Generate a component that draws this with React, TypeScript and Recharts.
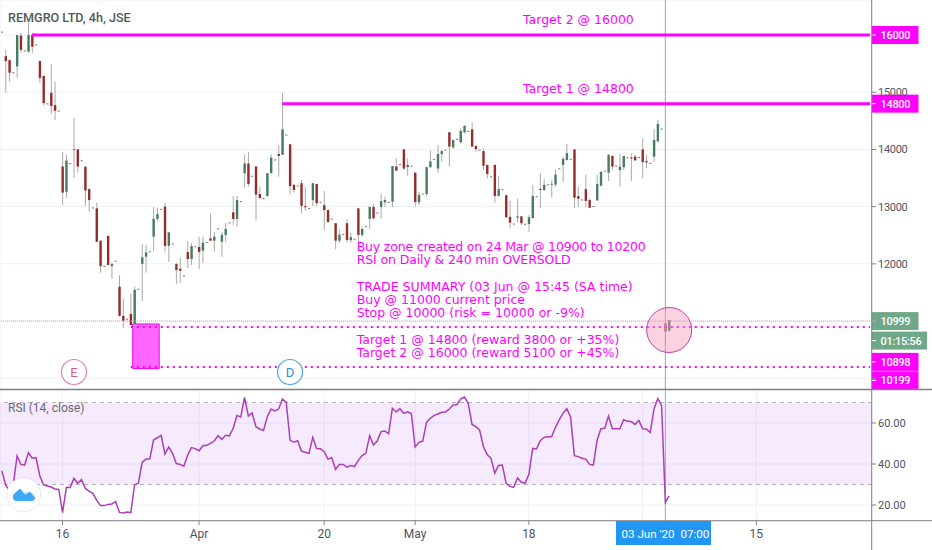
import {
  CartesianGrid,
  ComposedChart,
  Bar,
  Line,
  ReferenceArea,
  ReferenceDot,
  ReferenceLine,
  XAxis,
  YAxis,
} from "recharts";

// 3 bars a day on the 4h feed, the third one is only a dash (session close print)
const opens = [
  16060, 15630, 15560, 15350, 15450, 15990, 15730, 15710, 16000, 15835, 15545, 15285,
  14805, 14990, 14775, 14680, 13700, 13260, 13760, 13990, 14000, 13810, 13700, 13305,
  12985, 12970, 12405, 11965, 12490, 11960, 12055, 11600, 11090, 11040, 11125, 10950,
  11565, 12000, 12125, 12220, 12475, 12785, 12960, 13000, 12315, 12355, 11995, 11915,
  11800, 12205, 12085, 12305, 12295, 12230, 12380, 12445, 12405, 12620, 12385, 12505,
  12725, 12900, 12785, 13095, 13585, 13755, 13540, 13700, 13220, 13150, 13185, 13585,
  13825, 13920, 13905, 14260, 14090, 13380, 13370, 13410, 13010, 12975, 13115, 13395,
  13085, 13025, 12940, 12790, 12710, 12405, 12525, 12710, 12415, 12440, 12970, 12505,
  12660, 12785, 12995, 12895, 12995, 13075, 13080, 13085, 13700, 13745, 14000, 13690,
  13715, 13595, 13075, 13230, 13220, 13690, 13835, 13665, 13920, 13995, 14300, 14035,
  14185, 14125, 14300, 14325, 14350, 14060, 13995, 13970, 13730, 13530, 13730, 13185,
  13305, 13200, 12820, 12705, 12805, 12830, 12700, 12695, 12800, 13180, 13310, 13290,
  13390, 13390, 13385, 13670, 13730, 13815, 13835, 14000, 13185, 13125, 13305, 13115,
  13010, 13110, 13365, 13630, 13595, 13885, 13720, 13640, 13690, 13860, 13860, 13875,
  13870, 14000, 13770, 13765, 13875, 14140, 14365, 10960, 10830,
];
const highs = [
  16060, 15740, 15575, 15350, 16000, 16035, 15730, 16210, 16035, 15835, 15545, 15285,
  14805, 15495, 15185, 14680, 13955, 13905, 13760, 14550, 14005, 13810, 13700, 13325,
  12985, 13070, 12405, 11965, 12490, 12035, 12055, 11805, 11385, 11040, 11475, 11600,
  11565, 12340, 12330, 12220, 12995, 12975, 12960, 13070, 12560, 12355, 12015, 12100,
  11800, 12400, 12365, 12305, 12475, 12475, 12380, 12870, 12560, 12620, 12560, 12715,
  12725, 13185, 13185, 13095, 13905, 13960, 13540, 13710, 13350, 13150, 13585, 13915,
  13825, 14075, 14990, 14260, 14090, 13395, 13370, 13465, 13340, 12975, 13410, 13395,
  13085, 13275, 12955, 12790, 12710, 12590, 12525, 12780, 12545, 12440, 12970, 12650,
  12660, 13000, 13045, 12895, 13220, 13175, 13080, 13710, 13845, 13745, 14000, 13845,
  13715, 13595, 13260, 13230, 13690, 13980, 13835, 14075, 13990, 13995, 14300, 14175,
  14185, 14370, 14425, 14325, 14475, 14075, 13995, 14020, 13730, 13530, 13730, 13535,
  13305, 13205, 13100, 12705, 13135, 12835, 12700, 12855, 13380, 13180, 13585, 13480,
  13390, 13465, 13655, 13670, 13875, 14095, 13835, 14000, 13350, 13125, 13555, 13145,
  13010, 13555, 13610, 13630, 13915, 13905, 13720, 13920, 13885, 13860, 13930, 13905,
  13870, 14195, 13905, 13765, 14355, 14515, 14365, 10960, 11020,
];
const lows = [
  16040, 14990, 15185, 15330, 15250, 15690, 15710, 15685, 15690, 15815, 15160, 14775,
  14785, 14620, 14515, 14660, 13030, 13150, 13740, 13500, 13595, 13790, 13015, 12910,
  12965, 12385, 11840, 11945, 11980, 11740, 12035, 11075, 10880, 11020, 10930, 10930,
  11545, 11350, 11845, 12200, 12230, 12755, 12940, 12210, 12035, 12335, 11650, 11670,
  11780, 11925, 11980, 12285, 11910, 12015, 12360, 12405, 12210, 12600, 12125, 12385,
  12705, 12680, 12650, 13075, 13330, 13350, 13520, 12755, 13130, 13130, 13175, 13585,
  13805, 13525, 13905, 14240, 13205, 13245, 13350, 12885, 12930, 12955, 13010, 13010,
  13065, 12590, 12720, 12770, 12255, 12365, 12505, 12370, 12370, 12420, 12365, 12475,
  12640, 12610, 12785, 12875, 12795, 12990, 13060, 12990, 13630, 13725, 13640, 13540,
  13695, 13000, 13030, 13210, 13175, 13670, 13815, 13585, 13785, 13975, 13710, 14015,
  14165, 14105, 14280, 14305, 14050, 13960, 13975, 13640, 13495, 13510, 13070, 13175,
  13285, 12795, 12620, 12685, 12720, 12680, 12680, 12560, 12795, 13160, 12970, 13280,
  13370, 13165, 13350, 13650, 13435, 13805, 13815, 12980, 13000, 13105, 12990, 12970,
  12990, 13100, 13365, 13610, 13450, 13640, 13700, 13350, 13640, 13840, 13450, 13800,
  13850, 13495, 13670, 13745, 13785, 14125, 14345, 10580, 10830,
];
const closes = [
  16040, 15545, 15340, 15330, 16000, 15740, 15710, 16000, 15795, 15815, 15250, 14810,
  14785, 14760, 14675, 14660, 13245, 13805, 13740, 14005, 13700, 13790, 13280, 13115,
  12965, 12385, 11960, 11945, 11980, 11995, 12035, 11090, 11005, 11020, 10930, 11545,
  11545, 12115, 12200, 12200, 12785, 12870, 12940, 12315, 12550, 12335, 11890, 11880,
  11780, 12085, 12310, 12285, 12210, 12370, 12360, 12405, 12475, 12600, 12505, 12610,
  12705, 12785, 13115, 13075, 13755, 13395, 13520, 13210, 13150, 13130, 13585, 13855,
  13805, 13885, 14350, 14240, 13360, 13290, 13350, 13010, 12990, 12955, 13410, 13060,
  13065, 12940, 12730, 12770, 12405, 12510, 12505, 12415, 12465, 12420, 12505, 12610,
  12640, 12995, 12795, 12875, 13095, 13115, 13060, 13710, 13630, 13725, 13665, 13730,
  13695, 13080, 13205, 13210, 13690, 13790, 13815, 13920, 13970, 13975, 14050, 14165,
  14165, 14325, 14410, 14305, 14050, 14005, 13975, 13715, 13570, 13510, 13185, 13305,
  13285, 12815, 12720, 12685, 12830, 12710, 12680, 12815, 13185, 13160, 13295, 13380,
  13370, 13400, 13560, 13650, 13835, 13935, 13815, 13155, 13140, 13105, 13100, 12980,
  12990, 13395, 13610, 13610, 13905, 13700, 13700, 13700, 13885, 13840, 13845, 13810,
  13850, 13780, 13800, 13745, 14165, 14445, 14345, 10815, 11020,
];
const rsiValues = [
  36.6, 29.8, 26.8, 29.8, 43.9, 39.8, 39.5, 45.5, 42.8, 43.1, 34.3, 29.8,
  29.3, 28.8, 27.8, 27.6, 16.3, 28.6, 28.5, 33, 30.6, 32.4, 28.1, 26.8,
  25.7, 22.4, 19.7, 19.7, 20.3, 20.5, 21.6, 16.4, 16.1, 16.6, 16.3, 29.8,
  30.6, 40.8, 42.4, 42.4, 51.7, 52.8, 54, 44.9, 48.3, 45.2, 40.2, 39.8,
  38.9, 44.4, 48, 47.5, 46.5, 48.9, 49.1, 50.1, 51.2, 53.8, 52, 54,
  53.7, 57.4, 63.7, 62.9, 72.5, 63.4, 65, 58.2, 57.1, 56.4, 63.1, 66.8,
  65.9, 66.8, 71.7, 70.1, 51.7, 50.6, 51.4, 46.3, 45.7, 45.2, 53, 47.6,
  47.5, 46, 42.4, 43.1, 37.4, 39.8, 39.8, 38.5, 39.3, 38.7, 41.8, 44.1,
  45.2, 53.8, 49.3, 51.2, 55.8, 56.1, 54.8, 67.2, 65.4, 67, 64.7, 65.5,
  64.6, 48.3, 50.6, 51.2, 60.3, 62.3, 63.7, 64.4, 65.2, 65.4, 66.8, 68.8,
  68.9, 71.7, 72.7, 69.6, 59.3, 58.2, 56.6, 48.5, 44.6, 42.8, 35.6, 39.3,
  39.5, 30.6, 29.1, 28.6, 33.2, 31.1, 30.6, 35, 47.6, 47.3, 51.4, 53,
  53.3, 53.3, 57.9, 61.5, 64.7, 67, 62.9, 44.1, 43.6, 42.8, 42.4, 39.8,
  39.5, 51.7, 57.2, 57.4, 63.4, 57.2, 57.2, 57.2, 61.6, 60.8, 60.7, 59.3,
  61.3, 57.2, 57.1, 55.4, 66.8, 71.9, 68.5, 21.3, 24.4,
];

const BAR_SLOTS = 230; // includes the empty space to the right of the last bar
const dateTicks = [16, 52, 85, 109, 139, 169, 199];
const dateLabels = ["16", "Apr", "20", "May", "18", "", "15"];
const priceTicks = [10000, 11000, 12000, 13000, 14000, 15000, 16000];
const rsiTicks = [20, 40, 60];
const annotationLines = [
  "Buy zone created on 24 Mar @ 10900 to 10200",
  "RSI on Daily & 240 min OVERSOLD",
  "",
  "TRADE SUMMARY (03 Jun @ 15:45 (SA time)",
  "Buy @ 11000 current price",
  "Stop @ 10000 (risk = 10000 or -9%)",
  "",
  "Target 1 @ 14800 (reward 3800 or +35%)",
  "Target 2 @ 16000 (reward 5100 or +45%)",
];

const MAGENTA = "#ff00ff";
const TAG_GREEN = "#6fa888";
const GRID = "#eff1f5";
const AXIS = "#808285";
const UI_FONT = "Roboto, sans-serif";
const NOTE_FONT = "'DejaVu Sans', sans-serif";

const rows = Array.from({ length: BAR_SLOTS }, (_, i) =>
  i < opens.length
    ? {
        i,
        range: [lows[i], highs[i]],
        open: opens[i],
        high: highs[i],
        low: lows[i],
        close: closes[i],
        rsi: rsiValues[i],
      }
    : { i }
);

function Candle(props: any) {
  const { x, y, width, height, payload } = props;
  if (payload.high == null) return null;
  const cx = x + width / 2;
  const top = Math.min(y, y + height);
  const perUnit = Math.abs(height) / (payload.high - payload.low);
  const bodyTop = top + (payload.high - Math.max(payload.open, payload.close)) * perUnit;
  const bodyBottom = top + (payload.high - Math.min(payload.open, payload.close)) * perUnit;
  if (payload.high - payload.low <= 20) {
    return <rect x={cx - 1} y={top} width={2} height={1} fill="#66756c" />;
  }
  const color = payload.close < payload.open ? "#952b2b" : "#467c5e";
  return (
    <g>
      <line x1={cx} x2={cx} y1={top} y2={top + Math.abs(height)} stroke="#a9a9a9" strokeWidth={1} />
      <rect
        x={cx - 1.2}
        y={bodyTop}
        width={2.4}
        height={Math.max(bodyBottom - bodyTop, 1)}
        fill={color}
      />
    </g>
  );
}

// value tag sitting on the price scale, dy moves it when tags would overlap
function PriceTag(props: any) {
  const { viewBox, text, fill, dy = 0, w = 46.5 } = props;
  const left = viewBox.x + viewBox.width;
  const cy = viewBox.y + dy;
  return (
    <g>
      <rect x={left} y={cy - 9} width={w} height={18} fill={fill} />
      <line x1={left} x2={left + 4} y1={cy} y2={cy} stroke="#ffffff" />
      <text
        x={left + 8.5}
        y={cy + 4}
        fill="#ffffff"
        fontSize={11}
        fontWeight={500}
        letterSpacing={-0.3}
        fontFamily={UI_FONT}
      >
        {text}
      </text>
    </g>
  );
}

function Overlay() {
  return (
    <svg
      width={932}
      height={550}
      style={{ position: "absolute", left: 0, top: 0, pointerEvents: "none" }}
    >
      <line x1={0} x2={932} y1={389.5} y2={389.5} stroke={AXIS} strokeWidth={1.5} />
      <line x1={0} x2={932} y1={520.7} y2={520.7} stroke={AXIS} />
      <line x1={871.7} x2={871.7} y1={0} y2={550} stroke={AXIS} />

      <text x={8} y={22} fontSize={12.6} fontWeight={500} fill="#4f5b55" fontFamily={UI_FONT}>
        REMGRO LTD, 4h, JSE
      </text>
      <text x={8} y={412} fontSize={12} fill="#666a70" fontFamily={UI_FONT}>
        RSI (14, close)
      </text>

      <text x={523} y={24} fontSize={12.5} fill={MAGENTA} fontFamily={NOTE_FONT}>
        Target 2 @ 16000
      </text>
      <text x={523} y={93} fontSize={12.5} fill={MAGENTA} fontFamily={NOTE_FONT}>
        Target 1 @ 14800
      </text>
      {annotationLines.map((line, i) => (
        <text
          key={i}
          x={356.7}
          y={250.5 + i * 13.35}
          fontSize={12.5}
          fill={MAGENTA}
          fontFamily={NOTE_FONT}
          textLength={i === 0 ? 289 : i === 1 ? 214 : undefined}
        >
          {line}
        </text>
      ))}

      {/* logo badge */}
      <circle cx={23.7} cy={495} r={17} fill="#ffffff" stroke="#e6e8eb" />
      <path
        d="M13 495 L20 488 L25 493 L30 491 L35 496 Q36 501 31 501 L17 501 Q12 501 13 495 Z"
        fill="#3fa9f5"
      />
      <path d="M13 493 L20 488 L25 494 L30 491 L35 497" fill="none" stroke="#ffffff" strokeWidth={1} />

      {/* crosshair date */}
      <rect x={616} y={521} width={95} height={24} fill="#2196f3" />
      <text x={621.5} y={537.5} fontSize={11.6} fill="#ffffff" fontFamily={UI_FONT}>
        03 Jun '20
      </text>
      <text x={680.5} y={537.5} fontSize={11.6} fill="#ffffff" fontFamily={UI_FONT}>
        07:00
      </text>
    </svg>
  );
}

export default function App() {
  return (
    <div style={{ position: "fixed", left: 0, top: 0, width: 932, height: 550, background: "#fff" }}>
      <div style={{ position: "absolute", left: 0, top: 0 }}>
        <ComposedChart
          width={932}
          height={389}
          data={rows}
          margin={{ top: 0, right: 0, bottom: 0, left: 0 }}
          barCategoryGap={0}
        >
          <CartesianGrid stroke={GRID} />
          <XAxis
            dataKey="i"
            type="category"
            scale="band"
            ticks={dateTicks}
            interval={0}
            tick={false}
            tickLine={false}
            axisLine={false}
            height={0}
          />
          <YAxis
            orientation="right"
            width={60}
            type="number"
            domain={[9812, 16612]}
            allowDataOverflow
            ticks={priceTicks}
            interval={0}
            axisLine={false}
            tickLine={{ stroke: AXIS }}
            tickSize={4}
            tick={{ fontSize: 11, fill: "#50535e", fontFamily: UI_FONT, letterSpacing: -0.3 }}
            tickFormatter={(v: number) => (v === 12000 || v === 13000 || v === 14000 || v === 15000 ? String(v) : "")}
          />
          <Bar dataKey="range" shape={<Candle />} isAnimationActive={false} />

          <ReferenceLine x={175} stroke="#86a8cf" />
          <ReferenceLine y={10999} stroke="#8ec9a4" strokeDasharray="1 1" />
          <ReferenceArea
            x1={35}
            x2={41}
            y1={10170}
            y2={10950}
            fill="#ff66ff"
            fillOpacity={1}
            stroke={MAGENTA}
            strokeWidth={1}
          />
          <ReferenceLine
            segment={[{ x: 8, y: 16000 }, { x: 229, y: 16000 }]}
            stroke={MAGENTA}
            strokeWidth={3}
          />
          <ReferenceLine
            segment={[{ x: 74, y: 14800 }, { x: 229, y: 14800 }]}
            stroke={MAGENTA}
            strokeWidth={3}
          />
          <ReferenceLine
            segment={[{ x: 34, y: 10895 }, { x: 229, y: 10895 }]}
            stroke={MAGENTA}
            strokeWidth={2}
            strokeDasharray="2 4"
          />
          <ReferenceLine
            segment={[{ x: 34, y: 10196 }, { x: 229, y: 10196 }]}
            stroke={MAGENTA}
            strokeWidth={2}
            strokeDasharray="2 4"
          />

          <ReferenceDot
            x={176}
            y={10843}
            r={22.5}
            fill="#f48fb1"
            fillOpacity={0.4}
            stroke="#c63fa5"
            strokeWidth={1}
            ifOverflow="visible"
          />
          <ReferenceDot
            x={19}
            y={10109}
            r={12.5}
            fill="#ffffff"
            stroke="#e57fb0"
            strokeWidth={1.2}
            label={{ value: "E", position: "center", fill: "#d9598f", fontSize: 13, fontFamily: UI_FONT }}
          />
          <ReferenceDot
            x={76}
            y={10109}
            r={12.5}
            fill="#ffffff"
            stroke="#4ba6e8"
            strokeWidth={1.2}
            label={{ value: "D", position: "center", fill: "#2b8fd8", fontSize: 13, fontFamily: UI_FONT }}
          />

          <ReferenceLine y={16000} stroke="none" label={(p: any) => <PriceTag {...p} text="16000" fill={MAGENTA} />} />
          <ReferenceLine y={14800} stroke="none" label={(p: any) => <PriceTag {...p} text="14800" fill={MAGENTA} />} />
          <ReferenceLine y={10999} stroke="none" label={(p: any) => <PriceTag {...p} text="10999" fill={TAG_GREEN} />} />
          <ReferenceLine y={10999} stroke="none" label={(p: any) => <PriceTag {...p} text="01:15:56" fill={TAG_GREEN} dy={19.5} w={55} />} />
          <ReferenceLine y={10898} stroke="none" label={(p: any) => <PriceTag {...p} text="10898" fill={MAGENTA} dy={35} />} />
          <ReferenceLine y={10199} stroke="none" label={(p: any) => <PriceTag {...p} text="10199" fill={MAGENTA} dy={13.5} />} />
        </ComposedChart>
      </div>

      <div style={{ position: "absolute", left: 0, top: 390 }}>
        <ComposedChart
          width={932}
          height={160}
          data={rows}
          margin={{ top: 0, right: 0, bottom: 0, left: 0 }}
        >
          <CartesianGrid stroke={GRID} />
          <XAxis
            dataKey="i"
            type="category"
            scale="band"
            ticks={dateTicks}
            interval={0}
            height={29}
            axisLine={false}
            tickLine={{ stroke: AXIS }}
            tickSize={4}
            dy={2}
            tick={{ fontSize: 12, fill: "#50535e", fontFamily: UI_FONT }}
            tickFormatter={(v: number) => dateLabels[dateTicks.indexOf(v)]}
          />
          <YAxis
            orientation="right"
            width={60}
            type="number"
            domain={[12.2, 76.1]}
            allowDataOverflow
            ticks={rsiTicks}
            interval={0}
            axisLine={false}
            tickLine={{ stroke: AXIS }}
            tickSize={4}
            tick={{ fontSize: 11, fill: "#50535e", fontFamily: UI_FONT }}
            tickFormatter={(v: number) => v.toFixed(2)}
          />
          <ReferenceArea y1={30} y2={70} fill="#9915ff" fillOpacity={0.09} stroke="none" />
          <ReferenceLine y={70} stroke="#b9aeb9" strokeDasharray="4 4" />
          <ReferenceLine y={30} stroke="#b9aeb9" strokeDasharray="4 4" />
          <ReferenceLine x={175} stroke="#7ab4e8" />
          <Line
            dataKey="rsi"
            stroke="#ab3fb8"
            strokeWidth={1.5}
            dot={false}
            isAnimationActive={false}
          />
        </ComposedChart>
      </div>

      <Overlay />
    </div>
  );
}
